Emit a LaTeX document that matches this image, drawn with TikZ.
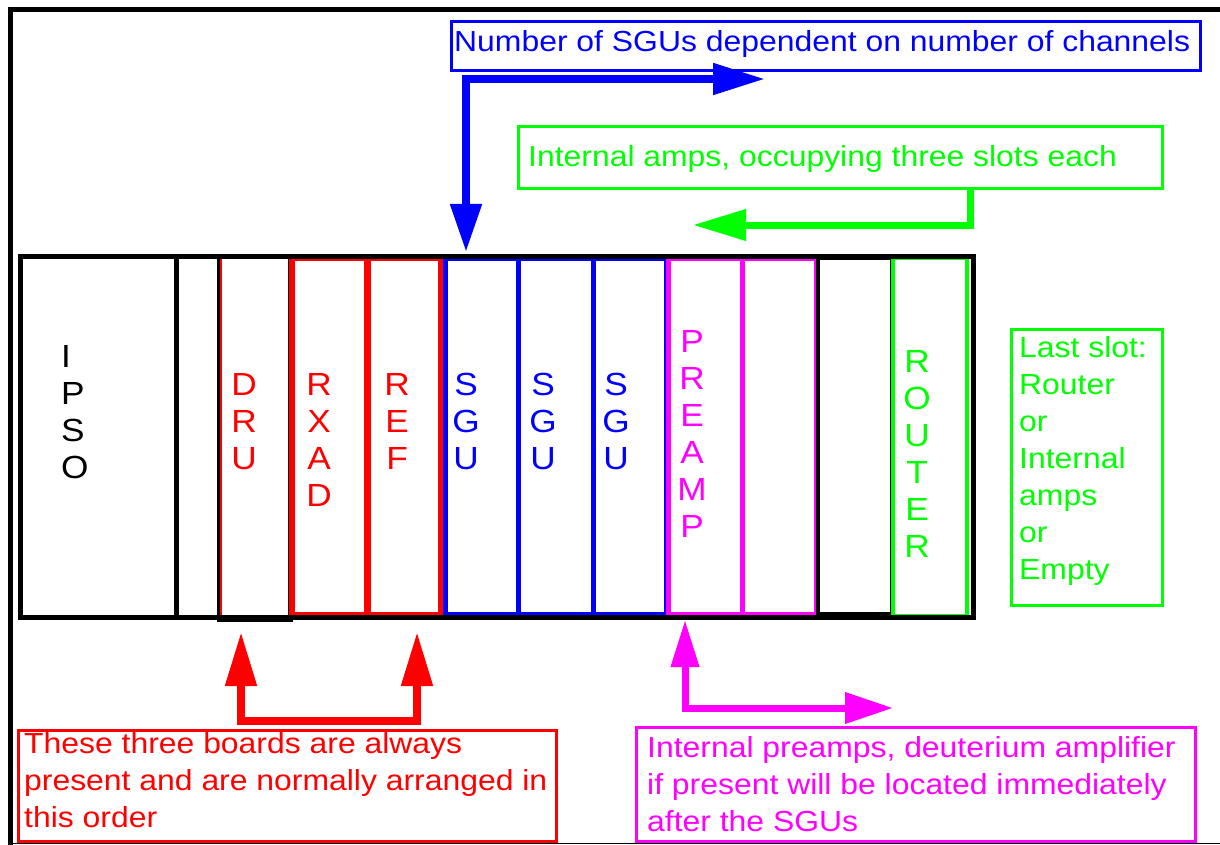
\documentclass[tikz,border=0pt]{standalone}
\usepackage{fontspec}
\setmainfont[FakeStretch=1.1]{Liberation Sans}
\usetikzlibrary{arrows.meta}
\definecolor{cred}{RGB}{255,0,0}
\definecolor{cblue}{RGB}{0,0,255}
\definecolor{cgreen}{RGB}{0,255,0}
\definecolor{cmag}{RGB}{255,0,255}
\begin{document}
\begin{tikzpicture}[x=1pt,y=-1pt,
  box/.style={draw, line width=3pt, inner sep=0pt, rectangle},
  slot/.style={draw, line width=5pt, inner sep=0pt, rectangle},
  txt/.style={inner sep=0pt, align=left, anchor=north west, font=\fontsize{29}{37}\selectfont},
  stack/.style={inner sep=0pt, align=center, anchor=north, font=\fontsize{32}{37}\selectfont},
  tip/.style={Triangle[length=48pt,width=30pt]},
  bigarrow/.style={line width=8pt, line join=miter}
]
\useasboundingbox (0,0) rectangle (1220,845);
% frame
\draw[line width=5pt] (10,845) -- (10,10) -- (1220,10);
\draw[line width=1.5pt] (10,843.5) -- (1220,843.5);

% board slots
\node[slot, minimum width=156pt, minimum height=361pt] (ipso) at (98,436.5) {};
\node[slot, line width=4pt, minimum width=43pt, minimum height=361pt] (blank1) at (197.5,436.5) {};
\node[slot, minimum width=71pt, minimum height=363pt] (dru) at (254.5,437.5) {};
\draw[cred, line width=1.2pt] (221,258) rectangle (290,617.5);
\node[slot, draw=cred, minimum width=74pt, minimum height=356pt] (rxad) at (329,436) {};
\node[slot, draw=cred, minimum width=72pt, minimum height=356pt] (ref) at (404,436) {};
\node[slot, draw=cblue, minimum width=73pt, minimum height=356pt] (sgu1) at (481.5,436) {};
\node[slot, draw=cblue, minimum width=75pt, minimum height=356pt] (sgu2) at (555.5,436) {};
\node[slot, draw=cblue, minimum width=73pt, minimum height=356pt] (sgu3) at (629.5,436) {};
\node[slot, draw=cmag, minimum width=74pt, minimum height=356pt] (pre1) at (705,436) {};
\node[slot, draw=cmag, minimum width=74pt, minimum height=356pt] (pre2) at (779,436) {};
\node[slot, line width=4pt, minimum width=74pt, minimum height=356pt] (blank2) at (855,436) {};
\node[slot, draw=cgreen, line width=4pt, minimum width=74pt, minimum height=358pt] (router) at (930,437) {};
\node[slot, minimum width=953pt, minimum height=361pt] (board) at (496.5,436.5) {};

% slot labels
\node[stack, align=left, anchor=north west] (ipsot) at (61,345) {I\\P\\S\\O};
\node[stack, text=cred] (drut) at (244,373) {D\\R\\U};
\node[stack, text=cred] (rxadt) at (319,373) {R\\X\\A\\D};
\node[stack, text=cred] (reft) at (397,373) {R\\E\\F};
\node[stack, text=cblue] (sgut1) at (466,373) {S\\G\\U};
\node[stack, text=cblue] (sgut2) at (543,373) {S\\G\\U};
\node[stack, text=cblue] (sgut3) at (616,373) {S\\G\\U};
\node[stack, text=cmag] (pret) at (692,330) {P\\R\\E\\A\\M\\P};
\node[stack, text=cgreen] (routert) at (917,350) {R\\O\\U\\T\\E\\R};

% annotation boxes
\node[box, draw=cblue, minimum width=749pt, minimum height=49pt] (bluebox) at (825.5,46.5) {};
\node[txt, text=cblue] (bluetxt) at (454,30) {Number of SGUs dependent on number of channels};

\node[box, draw=cgreen, minimum width=644pt, minimum height=62pt] (greenbox) at (840,158) {};
\node[txt, text=cgreen] (greentxt) at (528,145) {Internal amps, occupying three slots each};

\node[box, draw=cgreen, minimum width=151pt, minimum height=276pt] (lastbox) at (1086.5,467) {};
\node[txt, text=cgreen] (lasttxt) at (1019,336) {Last slot:\\Router\\or\\Internal\\amps\\or\\Empty};

\node[box, draw=cred, minimum width=538pt, minimum height=111pt] (redbox) at (287,785.5) {};
\node[txt, text=cred] (redtxt) at (24,732) {These three boards are always\\present and are normally arranged in\\this order};

\node[box, draw=cmag, minimum width=559pt, minimum height=114pt] (magbox) at (915.5,784) {};
\node[txt, text=cmag] (magtxt) at (647,736) {Internal preamps, deuterium amplifier\\if present will be located immediately\\after the SGUs};

% arrows
\coordinate (bt1) at (466,252);
\coordinate (bt2) at (765,79);
\draw[bigarrow, cblue, {Triangle[length=48pt,width=30pt]}-{Triangle[length=52pt,width=30pt]}] (bt1) |- (bt2);

\coordinate (gs) at (970,189);
\coordinate (gt) at (693,225);
\draw[bigarrow, line width=7pt, cgreen, -{Triangle[length=53pt,width=30pt]}] (gs) |- (gt);

\coordinate (mt1) at (685,620);
\coordinate (mt2) at (893,708);
\draw[bigarrow, line width=7pt, cmag, {Triangle[length=47pt,width=27pt]}-{Triangle[length=48pt,width=30pt]}] (mt1) |- (mt2);

\coordinate (rt1) at (241,632);
\coordinate (rt2) at (417,632);
\coordinate (rbase) at (0,721);
\draw[bigarrow, cred, {Triangle[length=54pt,width=30pt]}-{Triangle[length=54pt,width=30pt]}] (rt1) -- (rt1 |- rbase) -- (rt2 |- rbase) -- (rt2);
\end{tikzpicture}
\end{document}
